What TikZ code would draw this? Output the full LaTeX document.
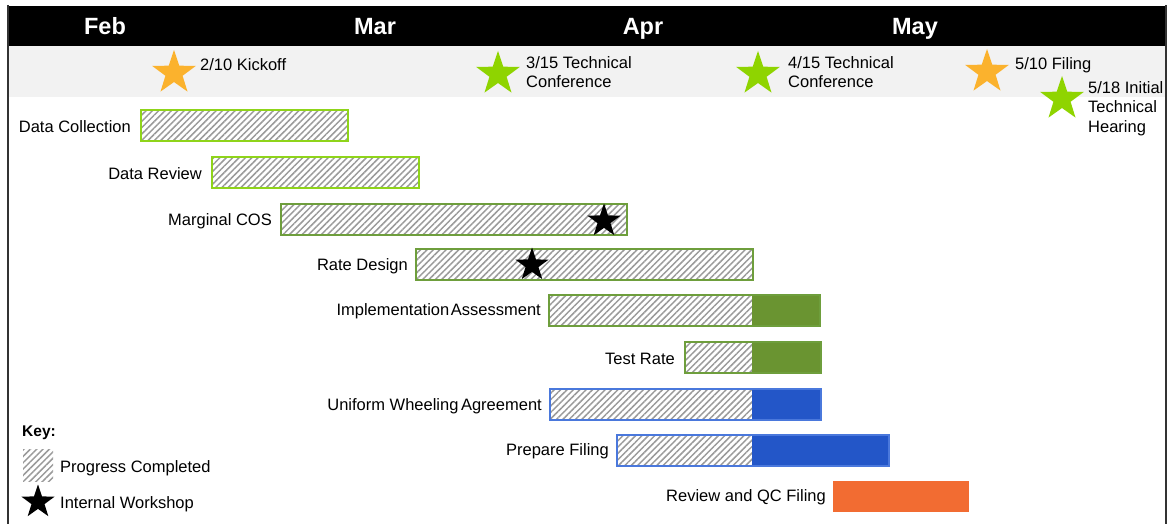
\documentclass[tikz,border=0pt]{standalone}
\usepackage{fontspec}
\setmainfont{Liberation Sans}
\usetikzlibrary{shapes.geometric,patterns.meta}
\definecolor{band}{HTML}{F2F2F2}
\definecolor{msorange}{HTML}{FBB22D}
\definecolor{msgreen}{HTML}{8FD400}
\definecolor{limeb}{HTML}{8FD41A}
\definecolor{dgreenb}{HTML}{6E9E3C}
\definecolor{dgreen}{HTML}{6A9431}
\definecolor{blueb}{HTML}{4A78DC}
\definecolor{bluef}{HTML}{2356C8}
\definecolor{orangef}{HTML}{F26C32}
\definecolor{framec}{HTML}{333333}
\definecolor{hatchc}{HTML}{9A9A9A}
\tikzset{
  hatch/.style={pattern={Lines[angle=45,distance=4.5pt,line width=1.5pt]}, pattern color=hatchc},
  lab/.style={anchor=east, inner sep=0, font=\fontsize{16.5}{20}\selectfont},
  mtext/.style={anchor=north west, inner sep=0, align=left, font=\fontsize{16.5}{19.5}\selectfont},
  month/.style={anchor=base, text=white, inner sep=0, font=\bfseries\fontsize{23.5}{26}\selectfont},
  milestone/.style={star, star points=5, star point ratio=2.55, inner sep=0, minimum size=46pt},
  workshop/.style={star, star points=5, star point ratio=2.55, inner sep=0, minimum size=35pt, fill=black},
}
\begin{document}
\begin{tikzpicture}[x=1pt,y=-1pt]
\useasboundingbox (0,0) rectangle (1170,524);
% header
\fill[band] (8,46) rectangle (1166,97);
\fill[black] (8,6) rectangle (1166,46);
\draw[framec, line width=1.5pt] (8,5) -- (8,524);
\draw[framec, line width=1.5pt] (1166,5) -- (1166,524);
\node[month] (feb) at (105,35) {Feb};
\node[month] (mar) at (375,35) {Mar};
\node[month] (apr) at (643,35) {Apr};
\node[month] (may) at (915,35) {May};
% milestones
\node[milestone, fill=msorange] (m1) at (174,73) {};
\node[mtext] (t1) at (200,58) {2/10 Kickoff};
\node[milestone, fill=msgreen] (m2) at (498,74) {};
\node[mtext] (t2) at (526,56) {3/15 Technical\\Conference};
\node[milestone, fill=msgreen] (m3) at (758,74) {};
\node[mtext] (t3) at (788,56) {4/15 Technical\\Conference};
\node[milestone, fill=msorange] (m4) at (987,72) {};
\node[mtext] (t4) at (1015,57) {5/10 Filing};
\node[milestone, fill=msgreen] (m5) at (1062,99) {};
\node[mtext] (t5) at (1088,81) {5/18 Initial\\Technical\\Hearing};
% bars
% 1 Data Collection
\path[hatch] (141,110) rectangle (348,141);
\draw[limeb, line width=1.5pt] (141,110) rectangle (348,141);
\node[lab] (l1) at (131,127) {Data Collection};
% 2 Data Review
\path[hatch] (212,157) rectangle (419,188);
\draw[limeb, line width=1.5pt] (212,157) rectangle (419,188);
\node[lab] (l2) at (202,174) {Data Review};
% 3 Marginal COS
\path[hatch] (281,204) rectangle (627,235);
\draw[dgreenb, line width=1.5pt] (281,204) rectangle (627,235);
\node[workshop] (w1) at (604,221) {};
\node[lab] (l3) at (272,221) {Marginal COS};
% 4 Rate Design
\path[hatch] (416,249) rectangle (753,280);
\draw[dgreenb, line width=1.5pt] (416,249) rectangle (753,280);
\node[workshop] (w2) at (532,265) {};
\node[lab] (l4) at (408,266) {Rate Design};
% 5 Implementation Assessment
\path[hatch] (549,295) rectangle (752,326);
\fill[dgreen] (752,295) rectangle (820,326);
\draw[dgreenb, line width=1.5pt] (549,295) rectangle (820,326);
\node[lab] (l5) at (541,311) {Implementation\kern-3pt\ Assessment};
% 6 Test Rate
\path[hatch] (685,342) rectangle (752,373);
\fill[dgreen] (752,342) rectangle (821,373);
\draw[dgreenb, line width=1.5pt] (685,342) rectangle (821,373);
\node[lab] (l6) at (675,359) {Test Rate};
% 7 Uniform Wheeling Agreement
\path[hatch] (550,389) rectangle (752,420);
\fill[bluef] (752,389) rectangle (821,420);
\draw[blueb, line width=1.5pt] (550,389) rectangle (821,420);
\node[lab] (l7) at (542,406) {Uniform Wheeling\kern-2pt\ Agreement};
% 8 Prepare Filing
\path[hatch] (617,435) rectangle (752,466);
\fill[bluef] (752,435) rectangle (889,466);
\draw[blueb, line width=1.5pt] (617,435) rectangle (889,466);
\node[lab] (l8) at (609,451) {Prepare Filing};
% 9 Review and QC Filing
\fill[orangef] (833,481) rectangle (969,512);
\node[lab] (l9) at (826,497) {Review and QC Filing};
% key
\node[anchor=west, inner sep=0, font=\bfseries\fontsize{15.5}{18}\selectfont] (key) at (22,433) {Key:};
\path[hatch] (23,449) rectangle (53,481);
\node[anchor=west, inner sep=0, font=\fontsize{16.5}{19}\selectfont] (k1) at (60,468) {Progress Completed};
\node[workshop] (k2s) at (38,502) {};
\node[anchor=west, inner sep=0, font=\fontsize{16.5}{19}\selectfont] (k2) at (60,504) {Internal Workshop};
\end{tikzpicture}
\end{document}
